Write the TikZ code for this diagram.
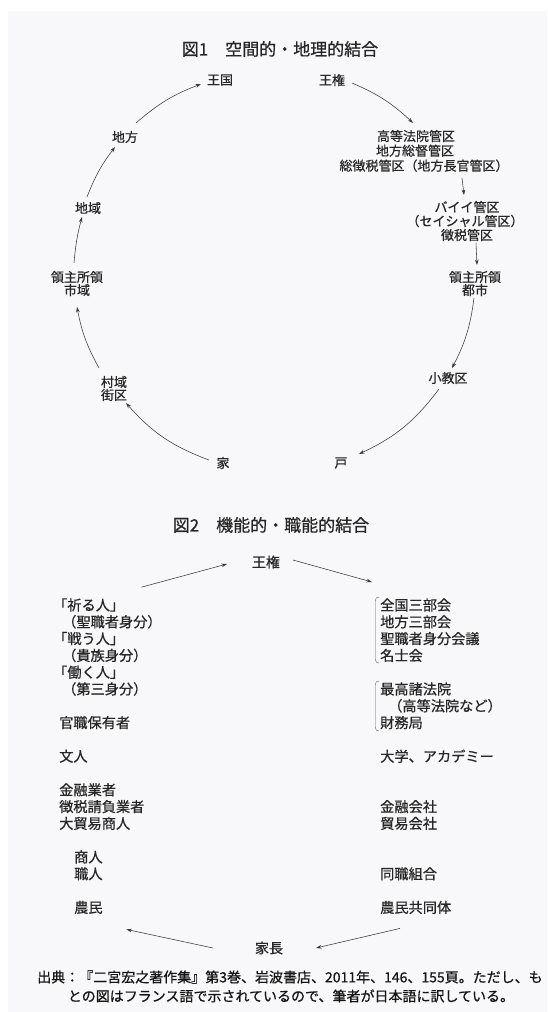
\documentclass[tikz,border=0pt]{standalone}
\usepackage{fontspec}
\newfontfamily\jp{Noto Sans CJK JP}[FakeBold=0.6]
\usetikzlibrary{arrows.meta}
\definecolor{bg}{HTML}{F8F8FA}
\definecolor{ink}{HTML}{262626}
\definecolor{arrowc}{HTML}{383838}
\tikzset{
 f1/.style={inner sep=0pt, text=ink, font=\jp\fontsize{13}{15}\selectfont},
 f2/.style={inner sep=0pt, text=ink, anchor=west, font=\jp\fontsize{14.2}{16}\selectfont},
 ttl/.style={inner sep=0pt, text=ink, font=\jp\fontsize{17}{20}\selectfont},
 captext/.style={inner sep=0pt, text=black!92, font=\jp\fontsize{14}{16}\selectfont},
 arr/.style={draw=arrowc, line width=0.55pt, -{Stealth[length=5.5pt,width=3.6pt]}},
 brk/.style={draw=arrowc!80, line width=0.45pt},
}
\begin{document}
\begin{tikzpicture}[x=1pt,y=-1pt]
\useasboundingbox (0,0) rectangle (547,1012);
\fill[white] (0,0) rectangle (547,1012);
\fill[bg] (8,11) rectangle (547,1012);

% ---------- Figure 1 ----------
\node[ttl] (t1) at (280,49) {図1　空間的・地理的結合};
\node[f1] (wangguo) at (220,80) {王国};
\node[f1] (wangquan) at (332,80) {王権};
\node[f1] (k1) at (416,136) {高等法院管区};
\node[f1] (k2) at (415,150.7) {地方総督管区};
\node[f1] (k3) at (424,165.7) {総徴税管区（地方長官管区）};
\node[f1] (b1) at (467,207) {バイイ管区};
\node[f1] (b2) at (465,221) {（セイシャル管区）};
\node[f1] (b3) at (467,235) {徴税管区};
\node[f1] (rt1) at (475,277) {領主所領};
\node[f1] (rt2) at (475,290) {都市};
\node[f1] (sk) at (448,378) {小教区};
\node[f1] (ko) at (341,463) {戸};
\node[f1] (ie) at (223,463) {家};
\node[f1] (sn1) at (114,382) {村域};
\node[f1] (sn2) at (114,395) {街区};
\node[f1] (lt1) at (77,277) {領主所領};
\node[f1] (lt2) at (77,290) {市域};
\node[f1] (chiiki) at (88,208) {地域};
\node[f1] (chihou) at (125,137) {地方};

\draw[arr] ([shift={(20,3)}]wangquan.center) to[bend left=10] ([shift={(-3,-13)}]k1.center);
\draw[arr] ([shift={(38,12.3)}]k3.center) -- ([shift={(-3,-12)}]b1.center);
\draw[arr] ([shift={(9,8)}]b3.center) -- ([shift={(2,-12)}]rt1.center);
\draw[arr] ([shift={(-1,8)}]rt2.center) to[bend left=10] ([shift={(4,-10)}]sk.center);
\draw[arr] ([shift={(-9,11)}]sk.center) to[bend left=14] ([shift={(18,-9)}]ko.center);
\draw[arr] ([shift={(-14,-3)}]ie.center) to[bend left=14] ([shift={(12,8)}]sn2.center);
\draw[arr] ([shift={(-15,-14)}]sn1.center) to[bend left=9] ([shift={(0,17)}]lt2.center);
\draw[arr] ([shift={(-3,-14)}]lt1.center) to[bend left=5] ([shift={(-6,9)}]chiiki.center);
\draw[arr] ([shift={(-1,-11)}]chiiki.center) to[bend left=8] ([shift={(-10,10)}]chihou.center);
\draw[arr] ([shift={(11,-14)}]chihou.center) to[bend left=10] ([shift={(-19,4)}]wangguo.center);

% ---------- Figure 2 ----------
\node[ttl] (t2) at (271,525) {図2　機能的・職能的結合};
\node[f1,font=\jp\fontsize{14}{16}\selectfont] (wq2) at (266,562) {王権};
\node[f1,font=\jp\fontsize{14}{16}\selectfont] (kc) at (269,948) {家長};

\node[f2] (L1) at (53,605) {「祈る人」};
\node[f2] (L2) at (62,621.8) {（聖職者身分）};
\node[f2] (L3) at (53,638.6) {「戦う人」};
\node[f2] (L4) at (62,655.4) {（貴族身分）};
\node[f2] (L5) at (53,672.2) {「働く人」};
\node[f2] (L6) at (62,689) {（第三身分）};
\node[f2] (L7) at (59,722.6) {官職保有者};
\node[f2] (L8) at (59,756.2) {文人};
\node[f2] (L9) at (59,789.8) {金融業者};
\node[f2] (L10) at (59,806.6) {徴税請負業者};
\node[f2] (L11) at (59,823.4) {大貿易商人};
\node[f2] (L12) at (74,857) {商人};
\node[f2] (L13) at (74,873.8) {職人};
\node[f2] (L14) at (74,907.4) {農民};

\node[f2] (R1) at (380,605) {全国三部会};
\node[f2] (R2) at (380,621.8) {地方三部会};
\node[f2] (R3) at (380,638.6) {聖職者身分会議};
\node[f2] (R4) at (380,655.4) {名士会};
\node[f2] (R5) at (380,689) {最高諸法院};
\node[f2] (R6) at (388,705.8) {（高等法院など）};
\node[f2] (R7) at (380,722.6) {財務局};
\node[f2] (R8) at (380,756.2) {大学、アカデミー};
\node[f2] (R9) at (380,806.6) {金融会社};
\node[f2] (R10) at (380,823.4) {貿易会社};
\node[f2] (R11) at (380,873.8) {同職組合};
\node[f2] (R12) at (380,907.4) {農民共同体};

\draw[brk] (379,597) .. controls (376,597.5) .. (375.5,601) -- (375.5,659) .. controls (376,662.5) .. (379,663);
\draw[brk] (379,681) .. controls (376,681.5) .. (375.5,685) -- (375.5,727) .. controls (376,730.5) .. (379,731);

\draw[arr] ([shift={(17,-11)}]L1.north east) -- ([shift={(-39,2)}]wq2.center);
\draw[arr] ([shift={(27,-2)}]wq2.center) -- ([shift={(-8,-23)}]R1.west);
\draw[arr] ([shift={(-56,0)}]kc.center) -- ([shift={(38,22)}]L14.center);
\draw[arr] ([shift={(20,21)}]R12.west) -- ([shift={(47,0)}]kc.center);

% ---------- Source ----------
\node[captext] (c1) at (290,977) {出典：『二宮宏之著作集』第3巻、岩波書店、2011年、146、155頁。ただし、も};
\node[captext] (c2) at (291,996) {との図はフランス語で示されているので、筆者が日本語に訳している。};
\end{tikzpicture}
\end{document}
